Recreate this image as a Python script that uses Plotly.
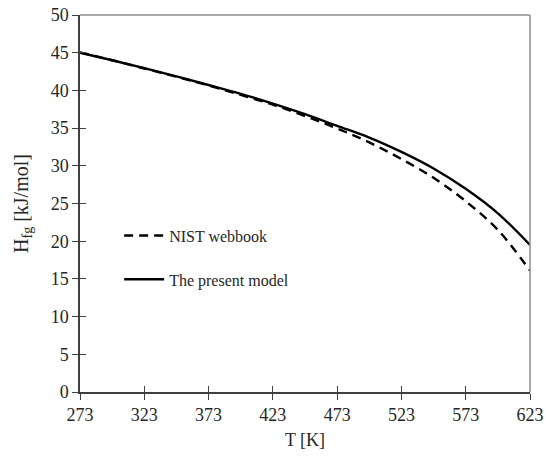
import plotly.graph_objects as go

T = [273, 298, 323, 348, 373, 398, 423, 448, 473, 498, 523, 548, 573, 598, 623]
nist = [45.05, 44.0, 42.9, 41.8, 40.66, 39.4, 38.1, 36.6, 34.95, 33.1, 30.9, 28.4, 25.3, 21.5, 16.1]
model = [45.0, 44.0, 42.95, 41.85, 40.72, 39.55, 38.25, 36.85, 35.3, 33.75, 31.85, 29.65, 26.95, 23.7, 19.5]
x_ticks = [273, 323, 373, 423, 473, 523, 573, 623]
y_ticks = list(range(0, 51, 5))

font = "Liberation Serif, Times New Roman, serif"
axis_col = "#404040"
text_col = "#262626"

fig = go.Figure()
fig.add_trace(go.Scatter(x=T, y=nist, mode="lines", name="NIST webbook", legendgroup="a",
                         line=dict(color="black", width=2.4, dash="9px,6px", shape="spline")))
fig.add_trace(go.Scatter(x=T, y=model, mode="lines", name="The present model", legendgroup="b",
                         line=dict(color="black", width=2.4, shape="spline")))
# invisible trace to activate overlay axes (inside half of crossing ticks)
fig.add_trace(go.Scatter(x=T, y=nist, xaxis="x2", yaxis="y2", mode="lines",
                         line=dict(width=0), opacity=0, showlegend=False, hoverinfo="skip"))

fig.update_layout(
    width=546, height=461,
    margin=dict(l=80, r=16, t=15, b=69),
    paper_bgcolor="white", plot_bgcolor="white",
    font=dict(family=font, size=18, color=text_col),
    xaxis=dict(range=[273, 623], tickvals=x_ticks, ticks="outside", ticklen=6,
               tickcolor=axis_col, showline=True, linecolor=axis_col, linewidth=1.5,
               showgrid=False, zeroline=False, automargin=False, ticklabeloverflow="allow",
               title=dict(text="T [K]", standoff=9, font=dict(size=18)),
               tickfont=dict(size=18)),
    yaxis=dict(range=[0, 50], tickvals=y_ticks, ticks="outside", ticklen=6,
               tickcolor=axis_col, showline=True, linecolor=axis_col, linewidth=1.5,
               showgrid=False, zeroline=False, automargin=False, ticklabeloverflow="allow",
               title=dict(text="H<sub>fg</sub> [kJ/mol]", standoff=17, font=dict(size=20)),
               tickfont=dict(size=18)),
    xaxis2=dict(range=[273, 623], tickvals=x_ticks, ticks="inside", ticklen=6,
                tickcolor=axis_col, overlaying="x", anchor="y2", side="bottom",
                showticklabels=False, showline=False, showgrid=False, zeroline=False),
    yaxis2=dict(range=[0, 50], tickvals=y_ticks, ticks="inside", ticklen=6,
                tickcolor=axis_col, overlaying="y", anchor="x2", side="left",
                showticklabels=False, showline=False, showgrid=False, zeroline=False),
    legend=dict(x=0.087, y=0.46, xanchor="left", yanchor="top",
                bgcolor="rgba(0,0,0,0)", font=dict(size=16, color=text_col),
                tracegroupgap=20, itemwidth=40),
    showlegend=True,
)

# gray frame on top and right
fig.add_shape(type="line", xref="x domain", yref="y domain", x0=0, x1=1, y0=1, y1=1,
              line=dict(color="#8c8c8c", width=1.5))
fig.add_shape(type="line", xref="x domain", yref="y domain", x0=1, x1=1, y0=0, y1=1,
              line=dict(color="#8c8c8c", width=1.5))

fig.write_html("out.html", config={"displayModeBar": False},
               post_script="document.body.style.margin='0';document.body.style.overflow='hidden';")
